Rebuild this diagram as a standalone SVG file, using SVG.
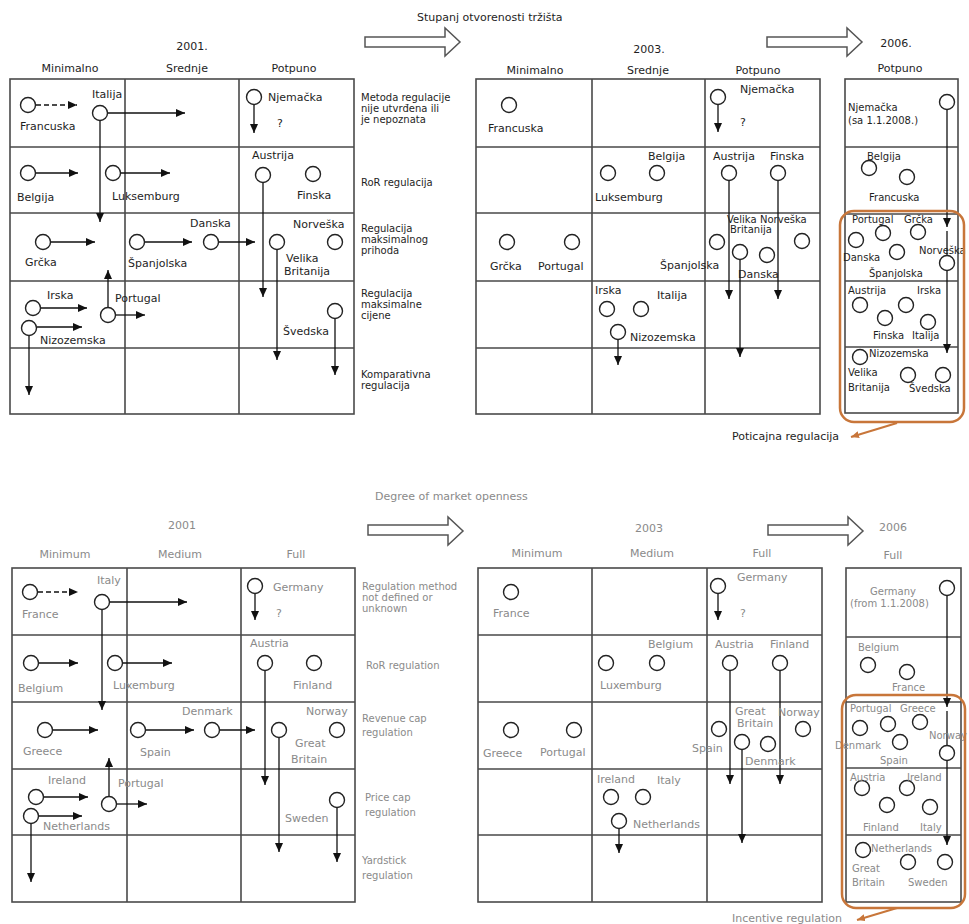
<svg xmlns="http://www.w3.org/2000/svg" width="969" height="924" viewBox="0 0 969 924">
<style>
.gr{fill:none;stroke:#4a4a4a;stroke-width:1.6}
.c{fill:#fff;stroke:#222;stroke-width:1.4}
text{font-family:"DejaVu Sans","Liberation Sans",sans-serif;font-size:11px;fill:#1e1e1e}
.b text, text.b{fill:#8a8a8a}
.s text, text.s{font-size:10px}
.r text{font-size:10px}
.a line{stroke:#111;stroke-width:1.3;marker-end:url(#ah)}
.a line.d{stroke-dasharray:5,3}
.ha{fill:#fff;stroke:#555;stroke-width:1.5}
.or{fill:none;stroke:#c8763a;stroke-width:2.5}
.oa{stroke:#c8763a;stroke-width:2;marker-end:url(#oh)}
</style>
<defs>
<marker id="ah" viewBox="0 0 10 10" markerWidth="9" markerHeight="8" refX="10" refY="5" orient="auto" markerUnits="userSpaceOnUse" preserveAspectRatio="none"><path d="M0,0 L10,5 L0,10 z" fill="#111"/></marker>
<marker id="oh" viewBox="0 0 10 10" markerWidth="8" markerHeight="7" refX="10" refY="5" orient="auto" markerUnits="userSpaceOnUse" preserveAspectRatio="none"><path d="M0,0 L10,5 L0,10 z" fill="#c8763a"/></marker>
</defs>
<rect width="969" height="924" fill="#fff"/>

<!-- ===== grids ===== -->
<g id="grids">
<g id="grid-top-2001" class="gr"><rect x="10" y="79" width="344" height="335"/><path d="M125,79V414M239,79V414M10,147H354M10,213H354M10,281H354M10,348H354"/></g>
<g id="grid-top-2003" class="gr"><rect x="476" y="79" width="344" height="335"/><path d="M592,79V414M705,79V414M476,147H820M476,213H820M476,281H820M476,348H820"/></g>
<g id="grid-top-2006" class="gr"><rect x="845" y="79" width="113" height="334"/><path d="M845,147H958M845,214H958M845,281H958M845,347H958"/></g>
<g id="grid-bot-2001" class="gr"><rect x="12" y="568" width="343" height="334"/><path d="M127,568V902M241,568V902M12,635H355M12,702H355M12,769H355M12,835H355"/></g>
<g id="grid-bot-2003" class="gr"><rect x="478" y="568" width="344" height="334"/><path d="M592,568V902M707,568V902M478,635H822M478,702H822M478,769H822M478,835H822"/></g>
<g id="grid-bot-2006" class="gr"><rect x="846" y="568" width="115" height="334"/><path d="M846,637H961M846,702H961M846,768H961M846,835H961"/></g>
</g>

<!-- ===== headers ===== -->
<g id="headers-top">
<text x="417" y="21">Stupanj otvorenosti tržišta</text>
<polygon class="ha" points="365,37 445,37 445,28 460,42 445,56 445,47 365,47"/>
<polygon class="ha" points="767,37 847,37 847,28 862,42 847,56 847,47 767,47"/>
<text x="192" y="50" text-anchor="middle">2001.</text>
<text x="649" y="53" text-anchor="middle">2003.</text>
<text x="896" y="47" text-anchor="middle">2006.</text>
<text x="70" y="72" text-anchor="middle">Minimalno</text>
<text x="187" y="72" text-anchor="middle">Srednje</text>
<text x="294" y="72" text-anchor="middle">Potpuno</text>
<text x="535" y="74" text-anchor="middle">Minimalno</text>
<text x="648" y="74" text-anchor="middle">Srednje</text>
<text x="758" y="74" text-anchor="middle">Potpuno</text>
<text x="900" y="72" text-anchor="middle">Potpuno</text>
</g>
<g id="rowlabels-top" class="r">
<text x="361" y="101">Metoda regulacije</text>
<text x="361" y="112">nije utvrđena ili</text>
<text x="361" y="123">je nepoznata</text>
<text x="361" y="186">RoR regulacija</text>
<text x="361" y="232">Regulacija</text>
<text x="361" y="243">maksimalnog</text>
<text x="361" y="254">prihoda</text>
<text x="361" y="297">Regulacija</text>
<text x="361" y="308">maksimalne</text>
<text x="361" y="319">cijene</text>
<text x="361" y="378">Komparativna</text>
<text x="361" y="389">regulacija</text>
</g>
<g id="headers-bottom" class="b">
<text x="375" y="500">Degree of market openness</text>
<polygon class="ha" points="368,525 448,525 448,517 463,531 448,545 448,535 368,535"/>
<polygon class="ha" points="768,525 848,525 848,517 863,531 848,545 848,535 768,535"/>
<text x="182" y="529" text-anchor="middle">2001</text>
<text x="649" y="532" text-anchor="middle">2003</text>
<text x="893" y="531" text-anchor="middle">2006</text>
<text x="65" y="558" text-anchor="middle">Minimum</text>
<text x="180" y="558" text-anchor="middle">Medium</text>
<text x="296" y="558" text-anchor="middle">Full</text>
<text x="537" y="557" text-anchor="middle">Minimum</text>
<text x="652" y="557" text-anchor="middle">Medium</text>
<text x="762" y="557" text-anchor="middle">Full</text>
<text x="893" y="559" text-anchor="middle">Full</text>
</g>
<g id="rowlabels-bottom" class="b r">
<text x="362" y="590">Regulation method</text>
<text x="362" y="601">not defined or</text>
<text x="362" y="612">unknown</text>
<text x="366" y="669">RoR regulation</text>
<text x="362" y="722">Revenue cap</text>
<text x="362" y="736">regulation</text>
<text x="365" y="801">Price cap</text>
<text x="365" y="816">regulation</text>
<text x="362" y="864">Yardstick</text>
<text x="362" y="879">regulation</text>
</g>

<!-- ===== connectors ===== -->
<g id="connectors" class="a">
<!-- top 2001 -->
<line class="d" x1="36" y1="105" x2="77" y2="105"/>
<line x1="108" y1="113" x2="185" y2="113"/>
<line x1="100" y1="121" x2="100" y2="222"/>
<line x1="36" y1="173" x2="78" y2="173"/>
<line x1="121" y1="173" x2="170" y2="173"/>
<line x1="254" y1="105" x2="254" y2="133"/>
<line x1="263" y1="183" x2="263" y2="297"/>
<line x1="51" y1="242" x2="95" y2="242"/>
<line x1="145" y1="242" x2="192" y2="242"/>
<line x1="219" y1="242" x2="255" y2="242"/>
<line x1="277" y1="250" x2="277" y2="360"/>
<line x1="41" y1="308" x2="87" y2="308"/>
<line x1="37" y1="327" x2="82" y2="327"/>
<line x1="29" y1="336" x2="29" y2="395"/>
<line x1="108" y1="307" x2="108" y2="270"/>
<line x1="116" y1="315" x2="145" y2="315"/>
<line x1="335" y1="319" x2="335" y2="375"/>
<!-- top 2003 -->
<line x1="718" y1="105" x2="718" y2="132"/>
<line x1="729" y1="181" x2="729" y2="299"/>
<line x1="778" y1="181" x2="778" y2="299"/>
<line x1="740" y1="260" x2="740" y2="357"/>
<line x1="618" y1="340" x2="618" y2="365"/>
<!-- top 2006 -->
<line x1="947" y1="110" x2="947" y2="227"/>
<line x1="947" y1="231" x2="947" y2="353"/>
<!-- bottom 2001 -->
<line class="d" x1="38" y1="592" x2="78" y2="592"/>
<line x1="110" y1="602" x2="187" y2="602"/>
<line x1="102" y1="610" x2="102" y2="710"/>
<line x1="255" y1="594" x2="255" y2="620"/>
<line x1="39" y1="663" x2="78" y2="663"/>
<line x1="123" y1="663" x2="172" y2="663"/>
<line x1="265" y1="671" x2="265" y2="785"/>
<line x1="53" y1="730" x2="98" y2="730"/>
<line x1="146" y1="730" x2="194" y2="730"/>
<line x1="220" y1="730" x2="255" y2="730"/>
<line x1="279" y1="738" x2="279" y2="852"/>
<line x1="44" y1="797" x2="88" y2="797"/>
<line x1="39" y1="816" x2="82" y2="816"/>
<line x1="31" y1="824" x2="31" y2="882"/>
<line x1="109" y1="796" x2="109" y2="758"/>
<line x1="117" y1="804" x2="147" y2="804"/>
<line x1="337" y1="808" x2="337" y2="862"/>
<!-- bottom 2003 -->
<line x1="718" y1="594" x2="718" y2="620"/>
<line x1="730" y1="671" x2="730" y2="784"/>
<line x1="780" y1="671" x2="780" y2="784"/>
<line x1="742" y1="750" x2="742" y2="843"/>
<line x1="619" y1="829" x2="619" y2="853"/>
<!-- bottom 2006 -->
<line x1="947" y1="596" x2="947" y2="707"/>
<line x1="947" y1="711" x2="947" y2="845"/>
</g>

<!-- ===== nodes: top 2001 ===== -->
<g id="t01-francuska"><circle class="c" cx="28" cy="105" r="7.5"/><text x="20" y="130">Francuska</text></g>
<g id="t01-italija"><circle class="c" cx="100" cy="113" r="7.5"/><text x="92" y="98">Italija</text></g>
<g id="t01-njemacka"><circle class="c" cx="254" cy="97" r="7.5"/><text x="268" y="101">Njemačka</text><text x="277" y="127">?</text></g>
<g id="t01-belgija"><circle class="c" cx="28" cy="173" r="7.5"/><text x="17" y="201">Belgija</text></g>
<g id="t01-luksemburg"><circle class="c" cx="113" cy="173" r="7.5"/><text x="112" y="200">Luksemburg</text></g>
<g id="t01-austrija"><circle class="c" cx="263" cy="175" r="7.5"/><text x="252" y="159">Austrija</text></g>
<g id="t01-finska"><circle class="c" cx="313" cy="174" r="7.5"/><text x="297" y="199">Finska</text></g>
<g id="t01-grcka"><circle class="c" cx="43" cy="242" r="7.5"/><text x="25" y="266">Grčka</text></g>
<g id="t01-spanjolska"><circle class="c" cx="137" cy="242" r="7.5"/><text x="128" y="267">Španjolska</text></g>
<g id="t01-danska"><circle class="c" cx="211" cy="242" r="7.5"/><text x="190" y="227">Danska</text></g>
<g id="t01-vb"><circle class="c" cx="277" cy="242" r="7.5"/><text x="286" y="262">Velika</text><text x="284" y="275">Britanija</text></g>
<g id="t01-norveska"><circle class="c" cx="335" cy="242" r="7.5"/><text x="293" y="228">Norveška</text></g>
<g id="t01-irska"><circle class="c" cx="33" cy="308" r="7.5"/><text x="47" y="299">Irska</text></g>
<g id="t01-nizozemska"><circle class="c" cx="29" cy="328" r="7.5"/><text x="40" y="344">Nizozemska</text></g>
<g id="t01-portugal"><circle class="c" cx="108" cy="315" r="7.5"/><text x="115" y="302">Portugal</text></g>
<g id="t01-svedska"><circle class="c" cx="335" cy="311" r="7.5"/><text x="283" y="335">Švedska</text></g>

<!-- ===== nodes: top 2003 ===== -->
<g id="t03-francuska"><circle class="c" cx="509" cy="105" r="7.5"/><text x="488" y="132">Francuska</text></g>
<g id="t03-njemacka"><circle class="c" cx="718" cy="97" r="7.5"/><text x="740" y="93">Njemačka</text><text x="740" y="126">?</text></g>
<g id="t03-luksemburg"><circle class="c" cx="608" cy="173" r="7.5"/><text x="595" y="201">Luksemburg</text></g>
<g id="t03-belgija"><circle class="c" cx="657" cy="173" r="7.5"/><text x="648" y="160">Belgija</text></g>
<g id="t03-austrija"><circle class="c" cx="729" cy="173" r="7.5"/><text x="713" y="160">Austrija</text></g>
<g id="t03-finska"><circle class="c" cx="778" cy="173" r="7.5"/><text x="770" y="160">Finska</text></g>
<g id="t03-grcka"><circle class="c" cx="507" cy="242" r="7.5"/><text x="490" y="270">Grčka</text></g>
<g id="t03-portugal"><circle class="c" cx="572" cy="242" r="7.5"/><text x="538" y="270">Portugal</text></g>
<g id="t03-spanjolska"><circle class="c" cx="717" cy="242" r="7.5"/><text x="660" y="269">Španjolska</text></g>
<g id="t03-vb" class="s"><circle class="c" cx="740" cy="252" r="7.5"/><text x="727" y="223">Velika</text><text x="730" y="233">Britanija</text></g>
<g id="t03-norveska" class="s"><circle class="c" cx="802" cy="241" r="7.5"/><text x="760" y="223">Norveška</text></g>
<g id="t03-danska"><circle class="c" cx="767" cy="255" r="7.5"/><text x="738" y="278">Danska</text></g>
<g id="t03-irska"><circle class="c" cx="607" cy="309" r="7.5"/><text x="595" y="294">Irska</text></g>
<g id="t03-italija"><circle class="c" cx="641" cy="309" r="7.5"/><text x="657" y="299">Italija</text></g>
<g id="t03-nizozemska"><circle class="c" cx="618" cy="332" r="7.5"/><text x="630" y="341">Nizozemska</text></g>

<!-- ===== nodes: top 2006 ===== -->
<g class="s">
<g id="t06-njemacka"><circle class="c" cx="947" cy="102" r="7.5"/><text x="848" y="111">Njemačka</text><text x="848" y="124">(sa 1.1.2008.)</text></g>
<g id="t06-belgija"><circle class="c" cx="869" cy="168" r="7.5"/><text x="867" y="160">Belgija</text></g>
<g id="t06-francuska"><circle class="c" cx="907" cy="177" r="7.5"/><text x="869" y="201">Francuska</text></g>
<g id="t06-portugal"><circle class="c" cx="883" cy="233" r="7.5"/><text x="852" y="223">Portugal</text></g>
<g id="t06-grcka"><circle class="c" cx="918" cy="232" r="7.5"/><text x="904" y="223">Grčka</text></g>
<g id="t06-danska"><circle class="c" cx="856" cy="240" r="7.5"/><text x="843" y="261">Danska</text></g>
<g id="t06-spanjolska"><circle class="c" cx="897" cy="252" r="7.5"/><text x="869" y="277">Španjolska</text></g>
<g id="t06-norveska"><circle class="c" cx="947" cy="263" r="7.5"/><text x="919" y="254">Norveška</text></g>
<g id="t06-austrija"><circle class="c" cx="860" cy="305" r="7.5"/><text x="848" y="294">Austrija</text></g>
<g id="t06-finska"><circle class="c" cx="885" cy="318" r="7.5"/><text x="873" y="339">Finska</text></g>
<g id="t06-irska"><circle class="c" cx="906" cy="305" r="7.5"/><text x="917" y="294">Irska</text></g>
<g id="t06-italija"><circle class="c" cx="928" cy="322" r="7.5"/><text x="912" y="339">Italija</text></g>
<g id="t06-nizozemska"><circle class="c" cx="860" cy="357" r="7.5"/><text x="869" y="357">Nizozemska</text></g>
<g id="t06-vb"><circle class="c" cx="908" cy="375" r="7.5"/><text x="848" y="376">Velika</text><text x="848" y="391">Britanija</text></g>
<g id="t06-svedska"><circle class="c" cx="943" cy="375" r="7.5"/><text x="909" y="392">Švedska</text></g>
</g>
<g id="t-incentive"><rect class="or" x="840" y="211" width="124" height="211" rx="14"/><line class="oa" x1="897" y1="423" x2="851" y2="437"/><text x="732" y="440">Poticajna regulacija</text></g>

<!-- ===== nodes: bottom 2001 ===== -->
<g class="b">
<g id="b01-france"><circle class="c" cx="30" cy="592" r="7.5"/><text x="22" y="618">France</text></g>
<g id="b01-italy"><circle class="c" cx="102" cy="602" r="7.5"/><text x="97" y="584">Italy</text></g>
<g id="b01-germany"><circle class="c" cx="255" cy="586" r="7.5"/><text x="273" y="591">Germany</text><text x="276" y="617">?</text></g>
<g id="b01-belgium"><circle class="c" cx="31" cy="663" r="7.5"/><text x="18" y="692">Belgium</text></g>
<g id="b01-luxemburg"><circle class="c" cx="115" cy="663" r="7.5"/><text x="113" y="689">Luxemburg</text></g>
<g id="b01-austria"><circle class="c" cx="265" cy="663" r="7.5"/><text x="250" y="647">Austria</text></g>
<g id="b01-finland"><circle class="c" cx="314" cy="663" r="7.5"/><text x="293" y="689">Finland</text></g>
<g id="b01-greece"><circle class="c" cx="45" cy="730" r="7.5"/><text x="23" y="755">Greece</text></g>
<g id="b01-spain"><circle class="c" cx="138" cy="730" r="7.5"/><text x="140" y="756">Spain</text></g>
<g id="b01-denmark"><circle class="c" cx="212" cy="730" r="7.5"/><text x="182" y="715">Denmark</text></g>
<g id="b01-gb"><circle class="c" cx="279" cy="730" r="7.5"/><text x="295" y="747">Great</text><text x="291" y="763">Britain</text></g>
<g id="b01-norway"><circle class="c" cx="337" cy="730" r="7.5"/><text x="306" y="715">Norway</text></g>
<g id="b01-ireland"><circle class="c" cx="36" cy="797" r="7.5"/><text x="48" y="784">Ireland</text></g>
<g id="b01-netherlands"><circle class="c" cx="31" cy="816" r="7.5"/><text x="43" y="830">Netherlands</text></g>
<g id="b01-portugal"><circle class="c" cx="109" cy="804" r="7.5"/><text x="118" y="787">Portugal</text></g>
<g id="b01-sweden"><circle class="c" cx="337" cy="800" r="7.5"/><text x="285" y="822">Sweden</text></g>

<!-- ===== nodes: bottom 2003 ===== -->
<g id="b03-france"><circle class="c" cx="511" cy="592" r="7.5"/><text x="493" y="617">France</text></g>
<g id="b03-germany"><circle class="c" cx="718" cy="586" r="7.5"/><text x="737" y="581">Germany</text><text x="740" y="617">?</text></g>
<g id="b03-luxemburg"><circle class="c" cx="606" cy="663" r="7.5"/><text x="600" y="689">Luxemburg</text></g>
<g id="b03-belgium"><circle class="c" cx="657" cy="663" r="7.5"/><text x="648" y="648">Belgium</text></g>
<g id="b03-austria"><circle class="c" cx="730" cy="663" r="7.5"/><text x="715" y="648">Austria</text></g>
<g id="b03-finland"><circle class="c" cx="780" cy="663" r="7.5"/><text x="770" y="648">Finland</text></g>
<g id="b03-greece"><circle class="c" cx="511" cy="730" r="7.5"/><text x="483" y="757">Greece</text></g>
<g id="b03-portugal"><circle class="c" cx="574" cy="730" r="7.5"/><text x="540" y="756">Portugal</text></g>
<g id="b03-spain"><circle class="c" cx="719" cy="729" r="7.5"/><text x="692" y="752">Spain</text></g>
<g id="b03-gb"><circle class="c" cx="742" cy="742" r="7.5"/><text x="735" y="715">Great</text><text x="737" y="727">Britain</text></g>
<g id="b03-denmark"><circle class="c" cx="768" cy="744" r="7.5"/><text x="745" y="765">Denmark</text></g>
<g id="b03-norway"><circle class="c" cx="803" cy="729" r="7.5"/><text x="778" y="716">Norway</text></g>
<g id="b03-ireland"><circle class="c" cx="611" cy="797" r="7.5"/><text x="597" y="783">Ireland</text></g>
<g id="b03-italy"><circle class="c" cx="643" cy="797" r="7.5"/><text x="657" y="784">Italy</text></g>
<g id="b03-netherlands"><circle class="c" cx="619" cy="821" r="7.5"/><text x="633" y="828">Netherlands</text></g>

<!-- ===== nodes: bottom 2006 ===== -->
<g class="s">
<g id="b06-germany"><circle class="c" cx="947" cy="588" r="7.5"/><text x="870" y="595">Germany</text><text x="850" y="607">(from 1.1.2008)</text></g>
<g id="b06-belgium"><circle class="c" cx="868" cy="665" r="7.5"/><text x="858" y="651">Belgium</text></g>
<g id="b06-france"><circle class="c" cx="907" cy="672" r="7.5"/><text x="892" y="691">France</text></g>
<g id="b06-portugal"><circle class="c" cx="888" cy="724" r="7.5"/><text x="850" y="712">Portugal</text></g>
<g id="b06-greece"><circle class="c" cx="920" cy="722" r="7.5"/><text x="900" y="712">Greece</text></g>
<g id="b06-denmark"><circle class="c" cx="860" cy="728" r="7.5"/><text x="835" y="749">Denmark</text></g>
<g id="b06-spain"><circle class="c" cx="900" cy="742" r="7.5"/><text x="880" y="764">Spain</text></g>
<g id="b06-norway"><circle class="c" cx="947" cy="753" r="7.5"/><text x="929" y="739">Norway</text></g>
<g id="b06-austria"><circle class="c" cx="862" cy="788" r="7.5"/><text x="850" y="781">Austria</text></g>
<g id="b06-finland"><circle class="c" cx="887" cy="805" r="7.5"/><text x="863" y="831">Finland</text></g>
<g id="b06-ireland"><circle class="c" cx="907" cy="788" r="7.5"/><text x="907" y="781">Ireland</text></g>
<g id="b06-italy"><circle class="c" cx="930" cy="807" r="7.5"/><text x="920" y="831">Italy</text></g>
<g id="b06-netherlands"><circle class="c" cx="863" cy="850" r="7.5"/><text x="871" y="852">Netherlands</text></g>
<g id="b06-gb"><circle class="c" cx="908" cy="862" r="7.5"/><text x="852" y="872">Great</text><text x="852" y="886">Britain</text></g>
<g id="b06-sweden"><circle class="c" cx="945" cy="862" r="7.5"/><text x="908" y="886">Sweden</text></g>
</g>
<g id="b-incentive"><rect class="or" x="842" y="695" width="123" height="213" rx="14"/><line class="oa" x1="897" y1="908" x2="857" y2="920"/><text x="732" y="922">Incentive regulation</text></g>
</g>
</svg>
